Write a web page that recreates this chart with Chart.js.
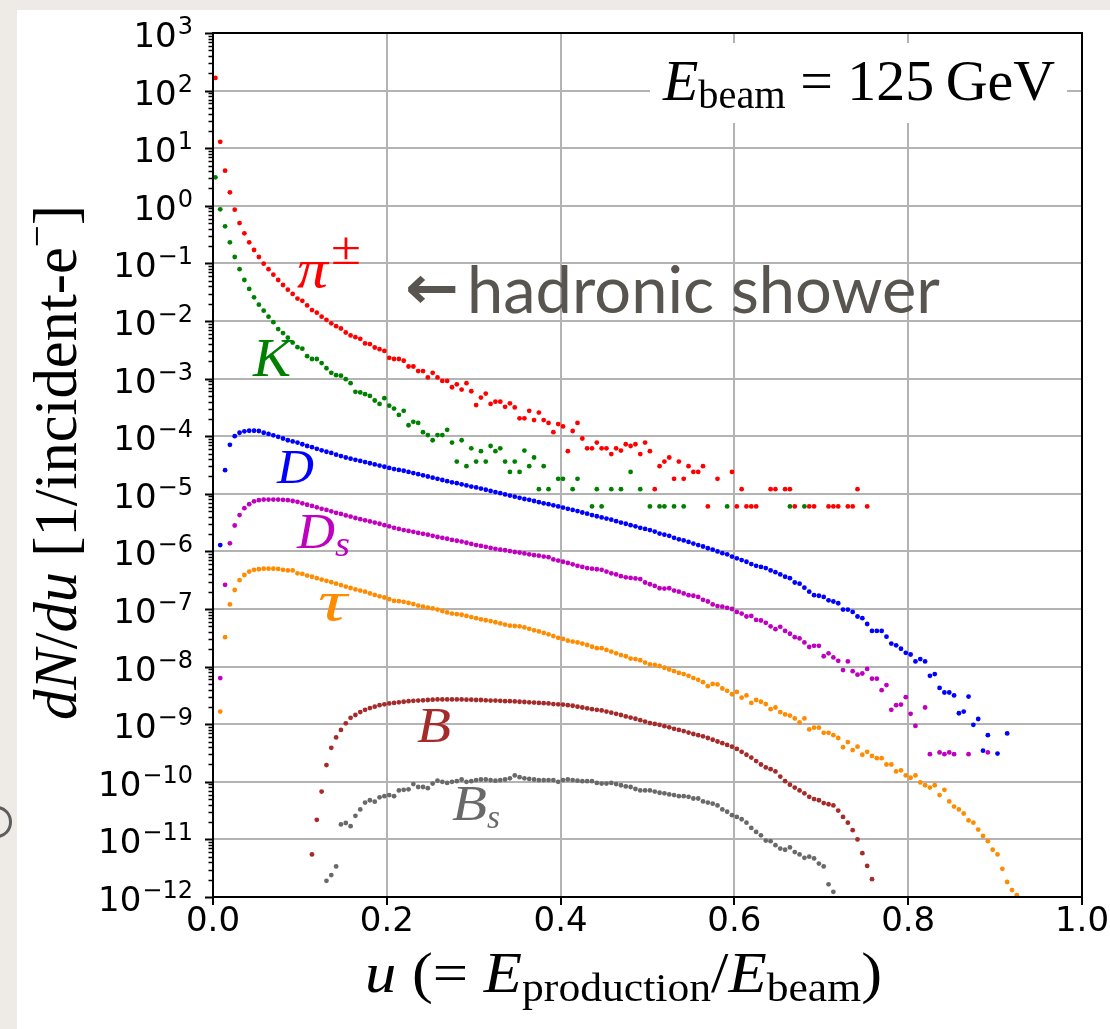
<!DOCTYPE html>
<html><head><meta charset="utf-8">
<script src="https://cdn.jsdelivr.net/npm/chart.js@4.4.0/dist/chart.umd.min.js"></script>
<style>
html,body{margin:0;padding:0;background:#eeebe7;width:1110px;height:1029px;overflow:hidden;position:relative;}
#panel{position:absolute;left:17px;top:10px;width:1093px;height:1019px;background:#fff;}
#arc{position:absolute;left:-18px;top:806px;width:24px;height:26px;border:3px solid #5d5d5d;border-radius:50%;}
#c{position:absolute;left:0;top:0;}
</style></head><body>
<div id="panel"></div><div id="arc"></div>
<canvas id="c" width="1110" height="1029"></canvas>
<script>
// ---- data: log10(dN/du) per u-bin (bin width 1/180), null = empty bin ----
const binCount = 180;
const piLog = [2.22,1.11,0.61,0.234,-0.067,-0.30,-0.478,-0.634,-0.767,-0.889,
-1.005,-1.10,-1.196,-1.288,-1.375,-1.456,-1.53,-1.61,-1.65,-1.73,
-1.81,-1.856,-1.925,-1.98,-2.04,-2.09,-2.13,-2.20,-2.25,-2.28,
-2.31,-2.39,-2.40,-2.46,-2.49,-2.52,-2.64,-2.66,-2.66,-2.69,
-2.79,-2.79,-2.87,-2.87,-2.98,-2.90,-2.98,-3.04,-3.04,-3.15,
-3.10,-3.19,-3.08,-3.22,-3.46,-3.33,-3.26,-3.44,-3.40,-3.40,
-3.49,-3.43,-3.50,-3.69,-3.69,-3.56,-3.72,-3.59,-3.72,-3.77,
-3.93,-3.79,-3.83,-4.26,-3.91,-3.77,-4.04,-4.21,-4.21,-4.11,
-4.21,-4.21,-4.31,-4.21,-4.25,-4.14,-4.17,-4.14,-4.31,-4.11,
-4.26,-4.92,-4.52,-4.44,-4.37,-4.74,-4.44,-4.74,-4.52,-4.62,
-4.62,-4.52,-5.22,null,-4.74,null,null,-4.62,-5.22,-4.92,
-5.22,-5.22,-5.22,null,null,-4.92,-4.92,null,-4.92,-4.92,
-5.22,null,null,-5.22,-5.22,null,null,-5.22,-5.22,-5.22,
null,-5.22,-5.22,-4.92,null,-5.22];
const kLog = [0.495,-0.061,-0.357,-0.634,-0.889,-1.10,-1.288,-1.444,-1.589,-1.717,
-1.82,-1.925,-2.02,-2.14,-2.21,-2.29,-2.375,-2.455,-2.48,-2.61,
-2.66,-2.66,-2.73,-2.82,-2.90,-2.94,-2.95,-3.01,-3.08,-3.23,
-3.24,-3.27,-3.30,-3.38,-3.44,-3.34,-3.47,-3.52,-3.63,-3.56,
-3.81,-3.75,-3.77,-3.93,-3.98,-4.07,-3.98,-3.98,-3.89,-4.11,
-4.44,-4.07,-4.52,-4.21,-4.44,-4.26,-4.44,-4.17,-4.26,-4.21,
-4.44,-4.62,-4.44,-4.62,-4.25,-4.52,-4.37,-4.92,-4.52,-4.92,
null,-4.74,-4.74,null,-4.92,-4.74,null,null,-5.22,-4.92,
-5.22,null,-4.92,null,-4.92,null,-4.62,null,-4.92,null,
-5.22,null,-5.22,-5.22,null,-5.22,null,-5.22,null,null,
null,null,null,null,null,null,-5.22,null,null,null,
null,null,null,null,null,null,null,null,null,-5.22,
null,null,-5.22];
const dLog = [null,-5.89,-4.59,-4.15,-4.00,-3.94,-3.915,-3.905,-3.905,-3.91,
-3.94,-3.96,-3.985,-4.01,-4.04,-4.07,-4.09,-4.11,-4.14,-4.17,
-4.19,-4.22,-4.245,-4.27,-4.29,-4.32,-4.345,-4.37,-4.39,-4.41,
-4.43,-4.45,-4.47,-4.49,-4.51,-4.53,-4.55,-4.57,-4.585,-4.60,
-4.62,-4.64,-4.66,-4.68,-4.70,-4.72,-4.74,-4.76,-4.78,-4.80,
-4.815,-4.835,-4.855,-4.875,-4.89,-4.91,-4.93,-4.95,-4.97,-4.99,
-5.01,-5.03,-5.05,-5.07,-5.09,-5.105,-5.125,-5.145,-5.165,-5.18,
-5.20,-5.22,-5.24,-5.26,-5.28,-5.30,-5.325,-5.345,-5.37,-5.39,
-5.41,-5.43,-5.45,-5.475,-5.50,-5.52,-5.545,-5.565,-5.59,-5.61,
-5.63,-5.655,-5.69,-5.71,-5.73,-5.765,-5.79,-5.81,-5.835,-5.865,
-5.89,-5.915,-5.945,-5.97,-6.00,-6.03,-6.05,-6.09,-6.12,-6.15,
-6.18,-6.22,-6.25,-6.27,-6.29,-6.33,-6.36,-6.40,-6.44,-6.465,
-6.54,-6.56,-6.63,-6.70,-6.76,-6.77,-6.79,-6.85,-6.87,-6.90,
-7.01,-7.01,-7.05,-7.13,-7.16,-7.26,-7.38,-7.38,-7.38,-7.48,
-7.60,-7.63,-7.69,-7.76,-7.79,-7.91,-7.87,-7.91,-8.16,-8.13,
-8.37,-8.45,-8.45,-8.50,-8.81,-8.78,-8.52,-9.01,-8.91,-9.46,
-9.19,null,-9.51,null,-9.16];
const dsLog = [null,-8.20,-6.58,-5.86,-5.55,-5.37,-5.25,-5.18,-5.13,-5.11,
-5.10,-5.10,-5.10,-5.10,-5.105,-5.11,-5.125,-5.14,-5.165,-5.19,
-5.21,-5.235,-5.26,-5.28,-5.305,-5.33,-5.35,-5.375,-5.395,-5.42,
-5.44,-5.46,-5.48,-5.50,-5.52,-5.545,-5.565,-5.59,-5.61,-5.63,
-5.645,-5.66,-5.68,-5.695,-5.71,-5.73,-5.75,-5.765,-5.78,-5.80,
-5.815,-5.83,-5.85,-5.87,-5.89,-5.905,-5.92,-5.94,-5.955,-5.97,
-5.98,-5.995,-6.01,-6.02,-6.035,-6.05,-6.065,-6.075,-6.09,-6.10,
-6.14,-6.16,-6.18,-6.20,-6.225,-6.25,-6.27,-6.29,-6.30,-6.31,
-6.32,-6.35,-6.38,-6.40,-6.43,-6.45,-6.46,-6.47,-6.48,-6.54,
-6.57,-6.60,-6.64,-6.645,-6.64,-6.68,-6.70,-6.73,-6.76,-6.77,
-6.79,-6.84,-6.87,-6.92,-6.95,-6.96,-6.98,-7.00,-7.05,-7.08,
-7.13,-7.12,-7.19,-7.20,-7.24,-7.30,-7.35,-7.31,-7.38,-7.43,
-7.49,-7.51,-7.58,-7.66,-7.64,-7.64,-7.82,-7.77,-7.84,-7.90,
-8.06,-7.91,-8.08,-8.14,-8.12,-8.04,-8.21,-8.21,-8.41,-8.32,
-8.75,-8.67,-8.66,-8.53,-8.82,-9.03,null,-8.71,-9.52,null,
-9.49,-9.52,-9.49,-9.52,null,null,-9.52,null,null,null,
-9.49];
const tauLog = [null,-8.78,-7.49,-6.92,-6.67,-6.50,-6.41,-6.35,-6.32,-6.31,
-6.30,-6.30,-6.30,-6.305,-6.32,-6.33,-6.33,-6.38,-6.39,-6.42,
-6.44,-6.465,-6.49,-6.51,-6.535,-6.56,-6.585,-6.61,-6.635,-6.66,
-6.68,-6.70,-6.73,-6.755,-6.78,-6.80,-6.83,-6.86,-6.865,-6.875,
-6.895,-6.915,-6.94,-6.96,-6.975,-6.99,-7.01,-7.035,-7.06,-7.08,
-7.09,-7.10,-7.12,-7.14,-7.16,-7.18,-7.195,-7.21,-7.23,-7.25,
-7.27,-7.29,-7.295,-7.30,-7.32,-7.345,-7.37,-7.39,-7.415,-7.44,
-7.47,-7.50,-7.52,-7.55,-7.565,-7.58,-7.60,-7.625,-7.655,-7.68,
-7.68,-7.71,-7.74,-7.77,-7.80,-7.82,-7.86,-7.87,-7.89,-7.93,
-7.96,-7.97,-7.99,-8.02,-8.05,-8.08,-8.11,-8.13,-8.16,-8.20,
-8.23,-8.27,-8.34,-8.30,-8.31,-8.38,-8.42,-8.48,-8.44,-8.54,
-8.50,-8.63,-8.58,-8.61,-8.65,-8.74,-8.71,-8.79,-8.83,-8.85,
-8.90,-8.97,-8.90,-9.09,-9.06,-9.06,-9.15,-9.15,-9.19,-9.24,
-9.40,-9.31,-9.45,-9.39,-9.53,-9.48,-9.55,-9.59,-9.59,-9.70,
-9.70,-9.82,-9.80,-9.89,-9.93,-9.89,-10.01,-10.06,-10.10,-10.06,
-10.23,-10.14,-10.34,-10.43,-10.48,-10.55,-10.67,-10.71,-10.83,-10.94,
-11.03,-11.18,-11.26,-11.51,-11.74,-11.88,-11.97];
const bLog = [null,null,null,null,null,null,null,null,null,null,
null,null,null,null,null,null,null,null,null,null,
-11.26,-10.66,-10.17,-9.71,-9.41,-9.23,-9.10,-8.985,-8.89,-8.84,
-8.79,-8.75,-8.72,-8.695,-8.67,-8.655,-8.64,-8.63,-8.62,-8.61,
-8.60,-8.595,-8.59,-8.585,-8.58,-8.575,-8.57,-8.57,-8.57,-8.57,
-8.57,-8.57,-8.575,-8.575,-8.58,-8.58,-8.585,-8.59,-8.59,-8.595,
-8.60,-8.60,-8.605,-8.61,-8.615,-8.62,-8.625,-8.63,-8.635,-8.64,
-8.65,-8.655,-8.66,-8.67,-8.68,-8.695,-8.71,-8.725,-8.74,-8.75,
-8.76,-8.78,-8.80,-8.82,-8.84,-8.865,-8.885,-8.905,-8.93,-8.955,
-8.98,-8.995,-9.01,-9.035,-9.055,-9.08,-9.10,-9.12,-9.145,-9.17,
-9.19,-9.21,-9.24,-9.27,-9.30,-9.33,-9.36,-9.39,-9.43,-9.48,
-9.53,-9.58,-9.64,-9.70,-9.75,-9.78,-9.82,-9.91,-9.99,-10.05,
-10.10,-10.15,-10.20,-10.26,-10.30,-10.32,-10.37,-10.39,-10.41,-10.50,
-10.61,-10.71,-10.84,-11.00,-11.24,-11.46,-11.69];
const bsLog = [null,null,null,null,null,null,null,null,null,null,
null,null,null,null,null,null,null,null,null,null,
null,null,null,-11.72,-11.62,-11.47,-10.74,-10.715,-10.77,-10.59,
-10.48,-10.36,-10.32,-10.345,-10.27,-10.25,-10.23,-10.25,-10.15,-10.14,
-10.13,-10.04,-10.09,-10.09,-10.11,-10.03,-9.98,-10.00,-10.02,-10.00,
-9.99,-9.96,-10.00,-9.99,-9.97,-9.96,-9.96,-9.97,-9.98,-9.97,
-9.96,-9.94,-9.89,-9.92,-9.94,-9.95,-9.96,-9.97,-9.97,-9.97,
-9.97,-10.00,-9.97,-9.96,-9.97,-9.98,-9.99,-9.99,-9.99,-10.02,
-10.03,-10.03,-10.02,-10.04,-10.06,-10.08,-10.09,-10.125,-10.15,-10.15,
-10.15,-10.17,-10.19,-10.20,-10.22,-10.23,-10.25,-10.25,-10.26,-10.29,
-10.29,-10.34,-10.36,-10.38,-10.41,-10.48,-10.52,-10.58,-10.61,-10.65,
-10.71,-10.80,-10.87,-10.93,-11.02,-11.03,-11.10,-11.16,-11.18,-11.14,
-11.22,-11.26,-11.32,-11.30,-11.33,-11.42,-11.47,-11.78,-11.91];

const xTickValues = [0, 0.2, 0.4, 0.6, 0.8, 1.0];
const xTickLabels = ['0.0', '0.2', '0.4', '0.6', '0.8', '1.0'];
const yDecadeExps = [-12,-11,-10,-9,-8,-7,-6,-5,-4,-3,-2,-1,0,1,2,3];

const seriesNames = ['\u03C0\u00B1', 'K', 'D', 'Ds', '\u03C4', 'B', 'Bs'];
const seriesColors = ['#ff0000', '#008000', '#0000ff', '#bf00bf', '#ff8c00', '#a52a2a', '#696969'];
const seriesLogs = [piLog, kLog, dLog, dsLog, tauLog, bLog, bsLog];

function toPoints(logs) {
  const pts = [];
  logs.forEach((v, i) => { if (v !== null) pts.push({ x: (i + 0.5) / binCount, y: Math.pow(10, v) }); });
  return pts;
}

const SERIF = '"Liberation Serif", "DejaVu Serif", serif';
function drawRich(c, segs, x, y, targetW, color) {
  let w = 0;
  segs.forEach(s => { c.font = s.f; w += c.measureText(s.t).width; });
  const sx = targetW ? targetW / w : 1;
  c.save();
  c.translate(x, y);
  c.scale(sx, 1);
  c.fillStyle = color;
  c.textAlign = 'left';
  c.textBaseline = 'alphabetic';
  let cx = 0;
  segs.forEach(s => { c.font = s.f; c.fillText(s.t, cx, s.dy || 0); cx += c.measureText(s.t).width; });
  c.restore();
}

const deco = {
  id: 'deco',
  beforeDatasetsDraw(chart) {
    const c = chart.ctx;
    c.save();
    c.fillStyle = '#ffffff';
    c.fillRect(650, 43, 417, 80);
    c.restore();
  },
  afterDraw(chart) {
    const c = chart.ctx;
    const a = chart.chartArea;
    const xs = chart.scales.x, ys = chart.scales.y;
    c.save();
    // frame
    c.strokeStyle = '#000'; c.lineWidth = 2;
    c.strokeRect(a.left, a.top, a.right - a.left, a.bottom - a.top);
    // y ticks (major + minor)
    c.beginPath();
    yDecadeExps.forEach(e => {
      const p = Math.round(ys.getPixelForValue(Math.pow(10, e))) + 0.5;
      c.moveTo(a.left - 8, p); c.lineTo(a.left, p);
    });
    c.lineWidth = 2; c.stroke();
    c.beginPath();
    yDecadeExps.forEach(e => {
      if (e >= 3) return;
      for (let m = 2; m <= 9; m++) {
        const p = Math.round(ys.getPixelForValue(m * Math.pow(10, e))) + 0.5;
        c.moveTo(a.left - 4.5, p); c.lineTo(a.left, p);
      }
    });
    c.lineWidth = 1.3; c.stroke();
    // x ticks
    c.beginPath();
    xTickValues.forEach(v => {
      const p = Math.round(xs.getPixelForValue(v));
      c.moveTo(p, a.bottom); c.lineTo(p, a.bottom + 8);
    });
    c.lineWidth = 2; c.stroke();
    // y tick labels
    c.fillStyle = '#000'; c.textBaseline = 'alphabetic'; c.textAlign = 'left';
    yDecadeExps.forEach(e => {
      const py = ys.getPixelForValue(Math.pow(10, e));
      const expStr = e < 0 ? '\u2212' + (-e) : String(e);
      c.font = '24px "DejaVu Sans"';
      const ew = c.measureText(expStr).width;
      c.fillText(expStr, 193 - ew, py + 1);
      c.font = '34px "DejaVu Sans"';
      const bw = c.measureText('10').width;
      c.fillText('10', 193 - ew - bw - 1, py + 14);
    });
    // x tick labels
    c.font = '34px "DejaVu Sans"'; c.textAlign = 'center';
    xTickValues.forEach((v, i) => {
      c.fillText(xTickLabels[i], xs.getPixelForValue(v), 931);
    });
    // axis titles
    const R56 = '56px ' + SERIF, I56 = 'italic 56px ' + SERIF, R39 = '39px ' + SERIF;
    drawRich(c, [{t:'u', f:I56}, {t:' (= ', f:R56}, {t:'E', f:I56}, {t:'production', f:R39, dy:9},
      {t:'/', f:R56}, {t:'E', f:I56}, {t:'beam', f:R39, dy:9}, {t:')', f:R56}], 365, 992, 517, '#000');
    const R62 = '62px ' + SERIF, I62 = 'italic 62px ' + SERIF;
    c.save();
    c.translate(76, 720); c.rotate(-Math.PI / 2);
    drawRich(c, [{t:'dN', f:I62}, {t:'/', f:R62}, {t:'du', f:I62}, {t:' [1/incident-e', f:R62},
      {t:'\u2212', f:'40px ' + SERIF, dy:-26}, {t:']', f:R62}], 0, 0, 515, '#000');
    c.restore();
    // energy annotation
    drawRich(c, [{t:'E', f:'italic 56px ' + SERIF}, {t:'beam', f:'39px ' + SERIF, dy:8},
      {t:' = 125\u2009GeV', f:'56px ' + SERIF}], 663, 100, 392, '#000');
    // hadronic shower note
    drawRich(c, [{t:'\u2190', f:'bold 60px "DejaVu Sans"'}], 405, 308, 54, '#58544f');
    drawRich(c, [{t:'hadronic shower', f:'66px Lato'}], 467, 313, 473, '#58544f');
    // series labels
    drawRich(c, [{t:'\u03C0', f:'italic 54px ' + SERIF}], 297, 287, 31, seriesColors[0]);
    drawRich(c, [{t:'\u00B1', f:'46px ' + SERIF}], 331, 264, 30, seriesColors[0]);
    drawRich(c, [{t:'K', f:'italic 55px ' + SERIF}], 253, 376, 38, seriesColors[1]);
    drawRich(c, [{t:'D', f:'italic 48px ' + SERIF}], 277, 483, 37, seriesColors[2]);
    drawRich(c, [{t:'D', f:'italic 50px ' + SERIF}], 297, 548, 38, seriesColors[3]);
    drawRich(c, [{t:'s', f:'italic 36px ' + SERIF}], 335, 556, 15, seriesColors[3]);
    drawRich(c, [{t:'\u03C4', f:'italic 56px ' + SERIF}], 318, 620, 29, seriesColors[4]);
    drawRich(c, [{t:'B', f:'italic 50px ' + SERIF}], 417, 742, 34, seriesColors[5]);
    drawRich(c, [{t:'B', f:'italic 50px ' + SERIF}], 452, 820, 35, seriesColors[6]);
    drawRich(c, [{t:'s', f:'italic 34px ' + SERIF}], 487, 828, 13, seriesColors[6]);
    c.restore();
  }
};

const datasets = seriesLogs.map((logs, i) => ({
  label: seriesNames[i],
  data: toPoints(logs),
  backgroundColor: seriesColors[i],
  borderColor: seriesColors[i],
  borderWidth: 0,
  pointRadius: 2.4,
  pointHoverRadius: 2.4,
  showLine: false
}));

new Chart(document.getElementById('c'), {
  type: 'scatter',
  data: { datasets },
  options: {
    responsive: false, animation: false, devicePixelRatio: 1, events: [],
    layout: { padding: { top: 33, right: 28, left: 0, bottom: 0 } },
    plugins: { legend: { display: false }, tooltip: { enabled: false } },
    scales: {
      x: {
        type: 'linear', position: 'bottom', min: 0, max: 1,
        afterBuildTicks: s => { s.ticks = xTickValues.map(v => ({ value: v })); },
        afterFit: s => { s.height = 132; },
        ticks: { display: false },
        grid: { color: '#b3b3b3', lineWidth: 2, drawTicks: false },
        border: { display: false }
      },
      y: {
        type: 'logarithmic', position: 'left', min: 1e-12, max: 1e3,
        afterBuildTicks: s => { s.ticks = yDecadeExps.map(e => ({ value: Math.pow(10, e) })); },
        afterFit: s => { s.width = 213; },
        ticks: { display: false },
        grid: { color: '#b3b3b3', lineWidth: 2, drawTicks: false },
        border: { display: false }
      }
    }
  },
  plugins: [deco]
});
</script></body></html>
